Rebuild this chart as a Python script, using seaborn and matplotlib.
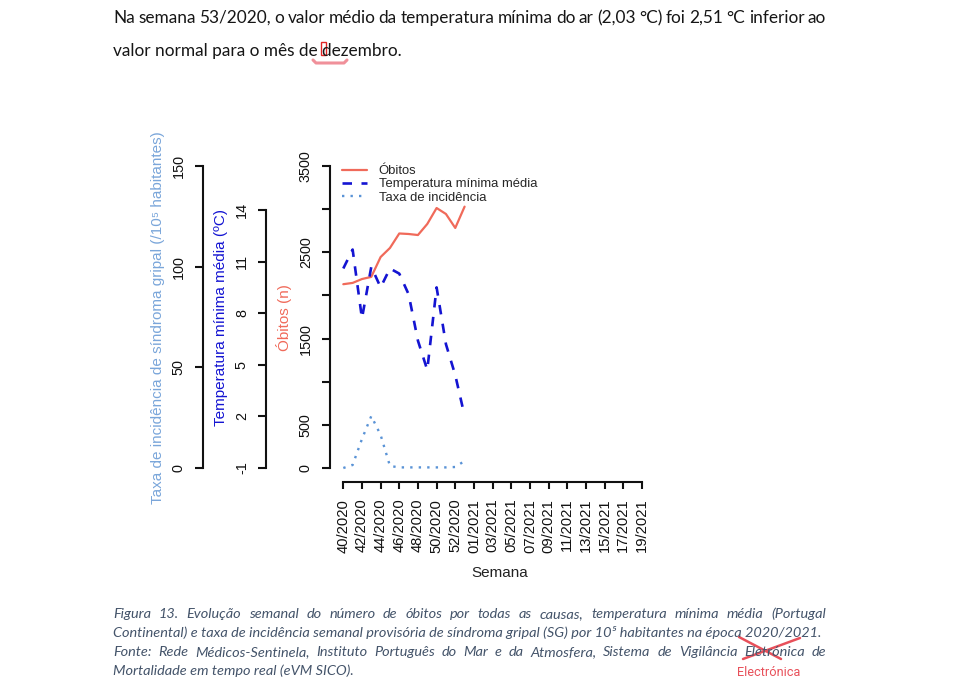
import numpy as np
import pandas as pd
import matplotlib
matplotlib.use("Agg")
import matplotlib.pyplot as plt
import seaborn as sns
from matplotlib.lines import Line2D

# Semanas da época 2020/2021 (2020 tem semana 53)
weeks_2020 = list(range(40, 54))
weeks_2021 = list(range(1, 20))
semanas = [f"{w:02d}/2020" for w in weeks_2020] + [f"{w:02d}/2021" for w in weeks_2021]

# Valores (semanas 40/2020 a 53/2020)
obitos = [2130, 2145, 2190, 2215, 2445, 2550, 2718, 2712, 2700, 2828, 3013, 2944, 2782, 3029]
temp_min = [10.6, 11.7, 7.7, 10.7, 9.5, 10.6, 10.3, 9.1, 6.4, 4.7, 9.5, 6.2, 4.4, 2.03]
incidencia = [0.0, 1.5, 14.4, 25.8, 16.4, 1.0, 0.3, 0.3, 0.3, 0.3, 0.3, 0.3, 0.5, 3.5]

df = pd.DataFrame({
    "semana": range(len(obitos)),
    "obitos": obitos,
    "temp": temp_min,
    "inc": incidencia,
})

col_obitos = "#F06A5A"
col_temp = "#1414D2"
col_inc = "#5A93D6"
col_inc_lab = "#7AA6DA"
dash_temp = (0, (3.6, 3.6))
dot_inc = (0, (1, 2.6))

W, H = 960, 692
sns.set_style("white")
plt.rcParams["font.family"] = ["Liberation Sans", "DejaVu Sans"]
plt.rcParams["axes.unicode_minus"] = False


def fx(px):
    return px / W


def fy(py):
    return 1 - py / H


fig = plt.figure(figsize=(W / 100, H / 100), dpi=100)
renderer = fig.canvas.get_renderer()

# ---- chart: three y axes on the left ----
ax = fig.add_axes([fx(330), fy(482), (660 - 330) / W, (482 - 154) / H])
ax2 = ax.twinx()
ax3 = ax.twinx()

sns.lineplot(data=df, x="semana", y="obitos", ax=ax, color=col_obitos, lw=1.6)
sns.lineplot(data=df, x="semana", y="temp", ax=ax2, color=col_temp, lw=1.9,
             linestyle=dash_temp)
sns.lineplot(data=df, x="semana", y="inc", ax=ax3, color=col_inc, lw=1.7,
             linestyle=dot_inc)

x0_px, dx_px = 343.3, 9.33
ax.set_xlim((330 - x0_px) / dx_px, (660 - x0_px) / dx_px)

k1 = (468 - 166) / 3500
ax.set_ylim(-(482 - 468) / k1, 3500 + (166 - 154) / k1)
k2 = (468 - 210) / 15
ax2.set_ylim(-1 - (482 - 468) / k2, 14 + (210 - 154) / k2)
k3 = (468 - 166) / 150
ax3.set_ylim(-(482 - 468) / k3, 150 + (166 - 154) / k3)

for a in (ax, ax2, ax3):
    for s in ("top", "right"):
        a.spines[s].set_visible(False)
    a.set_facecolor("none")

ax.spines["left"].set_bounds(0, 3500)
ax.spines["bottom"].set_bounds(0, 32)
ax.set_yticks(np.arange(0, 3501, 500))
ax.set_yticklabels(["0", "500", "", "1500", "", "2500", "", "3500"])
ax.set_xticks(range(0, len(semanas), 2))
ax.set_xticklabels(semanas[::2], rotation=90)

for a, pos, lo, hi, ticks in ((ax2, (266 - 330) / 330, -1, 14, np.arange(-1, 15, 3)),
                              (ax3, (203 - 330) / 330, 0, 150, np.arange(0, 151, 50))):
    a.spines["bottom"].set_visible(False)
    a.spines["left"].set_visible(True)
    a.spines["left"].set_position(("axes", pos))
    a.spines["left"].set_bounds(lo, hi)
    a.yaxis.set_ticks_position("left")
    a.yaxis.set_label_position("left")
    a.set_yticks(ticks)

for a in (ax, ax2, ax3):
    a.spines["left"].set_linewidth(1.5)
    a.spines["left"].set_color("#111111")
    a.tick_params(axis="y", left=True, right=False, length=5.8, width=1.5, pad=6.5,
                  labelsize=10.4, labelrotation=90, colors="#111111")
    for lab in a.get_yticklabels():
        lab.set_va("center")
ax.spines["bottom"].set_linewidth(1.5)
ax.spines["bottom"].set_color("#111111")
ax.tick_params(axis="x", bottom=True, length=5, width=1.5, pad=7.0, labelsize=10.6,
               colors="#111111")

ax.set_xlabel("Semana", fontsize=11, color="#222222")
ax.xaxis.set_label_coords((500 - 330) / 330, -(573 - 482) / (482 - 154))
ax.xaxis.label.set_va("center")
ax.set_ylabel("Óbitos (n)", fontsize=11, color=col_obitos, labelpad=5)
ax2.set_ylabel("Temperatura mínima média (ºC)", fontsize=11, color=col_temp, labelpad=5)
ax3.set_ylabel("Taxa de incidência de síndroma gripal (/10⁵ habitantes)", fontsize=11,
               color=col_inc_lab, labelpad=5)

handles = [
    Line2D([], [], color=col_obitos, lw=1.6),
    Line2D([], [], color=col_temp, lw=1.9, linestyle=dash_temp),
    Line2D([], [], color=col_inc, lw=1.7, linestyle=dot_inc),
]
ax.legend(handles, ["Óbitos", "Temperatura mínima média", "Taxa de incidência"],
          loc="upper left", bbox_to_anchor=(fx(342), fy(165)), bbox_transform=fig.transFigure,
          frameon=False, borderpad=0, borderaxespad=0, fontsize=9.4, handlelength=1.95,
          handletextpad=0.85, labelspacing=0.08)

# ---- page text around the chart ----


def text_width(s, **kw):
    t = fig.text(0, 0, s, **kw)
    w = t.get_window_extent(renderer).width
    t.remove()
    return w


def put_line(y, s, x0, x1=None, **kw):
    if x1 is None:
        fig.text(fx(x0), fy(y), s, va="baseline", **kw)
        return
    words = s.split(" ")
    widths = [text_width(w, **kw) for w in words]
    gap = (x1 - x0 - sum(widths)) / (len(words) - 1)
    x = x0
    for w, wd in zip(words, widths):
        fig.text(fx(x), fy(y), w, va="baseline", **kw)
        x += wd + gap


top_kw = dict(family=["Lato", "DejaVu Sans"], color="#161616")
top2 = "valor normal para o mês de dezembro."
top_kw["fontsize"] = 12 * (401 - 113) / text_width(top2, fontsize=12, **top_kw)
put_line(23, "Na semana 53/2020, o valor médio da temperatura mínima do ar (2,03 °C) foi 2,51 °C inferior ao",
         113, 826, **top_kw)
put_line(56, top2, 113, **top_kw)

cap_kw = dict(family=["Lato", "DejaVu Sans"], style="italic", color="#44546A")
cap2 = "Continental) e taxa de incidência semanal provisória de síndroma gripal (SG) por 10⁵ habitantes na época 2020/2021."
cap_kw["fontsize"] = 10 * (822 - 113) / text_width(cap2, fontsize=10, **cap_kw)
put_line(618, "Figura 13. Evolução semanal do número de óbitos por todas as causas, temperatura mínima média (Portugal",
         113, 826, **cap_kw)
put_line(637, cap2, 113, **cap_kw)
put_line(656, "Fonte: Rede Médicos-Sentinela, Instituto Português do Mar e da Atmosfera, Sistema de Vigilância Eletrónica de",
         113, 826, **cap_kw)
put_line(675, "Mortalidade em tempo real (eVM SICO).", 113, **cap_kw)

# red review marks
fig.add_artist(plt.Rectangle((fx(320.5), fy(55)), 5.5 / W, 13 / H, transform=fig.transFigure,
                             fill=False, ec="#E02424", lw=1.0))
fig.add_artist(Line2D([fx(313), fx(316), fx(344), fx(347)], [fy(60), fy(63), fy(63), fy(60)],
                      transform=fig.transFigure, color="#F0909A", lw=2.2, solid_capstyle="round"))
fig.add_artist(Line2D([fx(739), fx(781)], [fy(637), fy(659)], transform=fig.transFigure,
                      color="#E8505A", lw=1.8, solid_capstyle="round"))
fig.add_artist(Line2D([fx(743), fx(800)], [fy(659), fy(638)], transform=fig.transFigure,
                      color="#E8505A", lw=1.8, solid_capstyle="round"))
red_kw = dict(family=["Roboto", "DejaVu Sans"], color="#E8505A")
red_kw["fontsize"] = 10 * (800 - 737) / text_width("Electrónica", fontsize=10, **red_kw)
put_line(676, "Electrónica", 737, **red_kw)

fig.savefig("out.png", dpi=100, facecolor="white")
